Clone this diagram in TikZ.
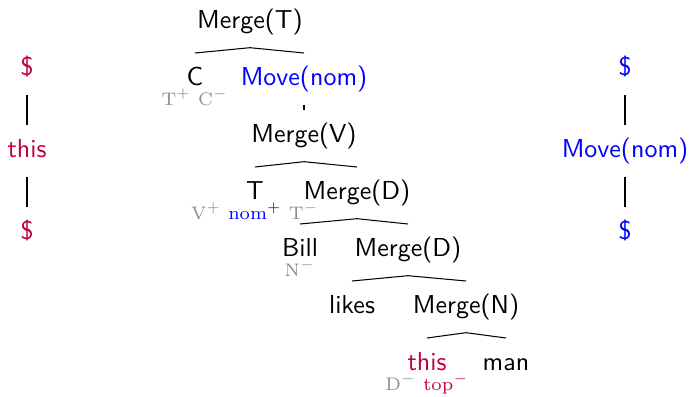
\documentclass[tikz,border=0pt]{standalone}
\usepackage{amsmath,amssymb}
\usepackage{xcolor}
\usepackage{tikz}
\usetikzlibrary{positioning,calc}
\definecolor{featgray}{gray}{0.55}
\definecolor{movecol}{rgb}{0,0,1}
\definecolor{topcol}{rgb}{0.75,0,0.25}

\begin{document}
\begin{tikzpicture}[
  x=0.385pt,y=0.385pt,
  tree/.style={font=\sffamily,anchor=base,inner xsep=2pt,inner ysep=5pt,
               text height=7.5pt,text depth=2pt},
  mv/.style={tree,text=movecol},
  tp/.style={tree,text=topcol},
  feat/.style={font=\scriptsize\rmfamily,text=featgray,anchor=base,inner sep=0pt},
  roof/.style={draw}
]
\useasboundingbox (0,0) rectangle (691,397);

% derivation tree
\node[tree] (mt) at (250,368) {Merge(T)};
\node[tree] (c) at (195,311) {C};
\node[mv] (mvnom) at (304,311) {Move(nom)};
\node[tree] (mgv) at (304,254) {Merge(V)};
\node[tree] (t) at (255,197) {T};
\node[tree] (mgd) at (357,197) {Merge(D)};
\node[tree] (bill) at (300,140) {Bill};
\node[tree] (mgdd) at (408,140) {Merge(D)};
\node[tree] (likes) at (352,83) {likes};
\node[tree] (mgn) at (466,83) {Merge(N)};
\node[tp] (this) at (427,26) {this};
\node[tree] (man) at (506,26) {man};

% features
\node[feat] (cf) at ([yshift=-7.5pt]c.base) {$\mathrm{T}^{+}\ \mathrm{C}^{-}$};
\node[feat] (tf) at ([yshift=-7.5pt]t.base) {$\mathrm{V}^{+}\ \textcolor{movecol}{\mathrm{nom}^{+}}\ \mathrm{T}^{-}$};
\node[feat] (billf) at ([yshift=-7.5pt]bill.base) {$\mathrm{N}^{-}$};
\node[feat] (thisf) at ([yshift=-7.5pt]this.base) {$\mathrm{D}^{-}\ \textcolor{topcol}{\mathrm{top}^{-}}$};

\draw[roof] (c.north) -- (mt.south) -- (mvnom.north);
\draw (mvnom.south) -- (mgv.north);
\draw[roof] (t.north) -- (mgv.south) -- (mgd.north);
\draw[roof] (bill.north) -- (mgd.south) -- (mgdd.north);
\draw[roof] (likes.north) -- (mgdd.south) -- (mgn.north);
\draw[roof] (this.north) -- (mgn.south) -- (man.north);

% chains
\node[tp] (ltop) at (27,321) {\$};
\node[tp] (lmid) at (27,239) {this};
\node[tp] (lbot) at (27,157) {\$};
\draw (ltop) -- (lmid);
\draw (lmid) -- (lbot);

\node[mv] (rtop) at (625,321) {\$};
\node[mv] (rmid) at (625,239) {Move(nom)};
\node[mv] (rbot) at (625,157) {\$};
\draw (rtop) -- (rmid);
\draw (rmid) -- (rbot);
\end{tikzpicture}
\end{document}
